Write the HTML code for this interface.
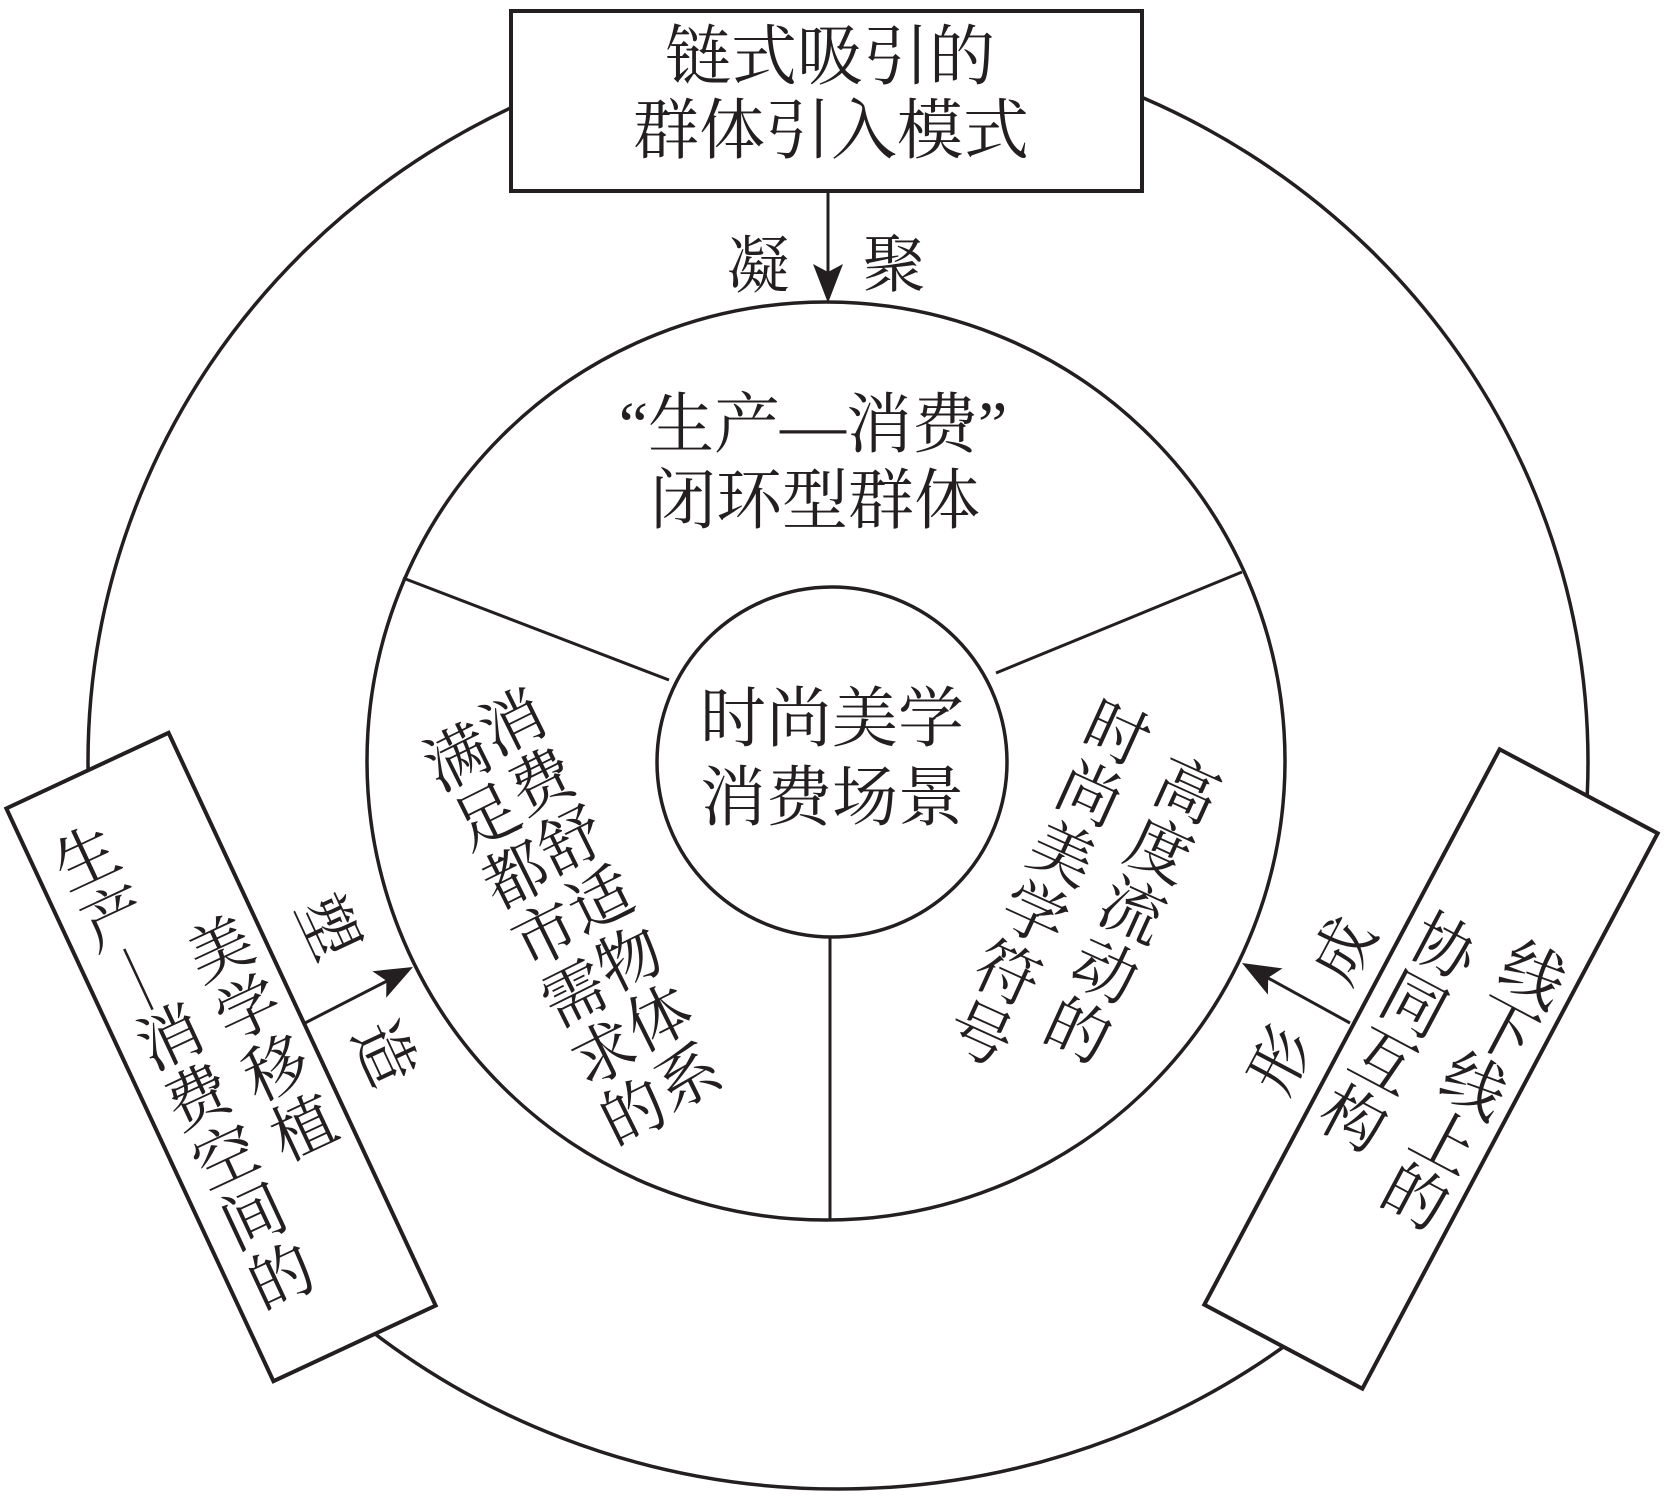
<!DOCTYPE html>
<html><head><meta charset="utf-8"><style>
html,body{margin:0;padding:0;background:#fff;}
svg{display:block;}
text{font-family:"Liberation Serif","Noto Serif CJK SC",serif;fill:#231f20;}
</style></head><body>
<svg width="1669" height="1496" viewBox="0 0 1669 1496" xmlns="http://www.w3.org/2000/svg">
<g fill="none" stroke="#231f20">
  <ellipse cx="838" cy="762" rx="750" ry="727" stroke-width="3.5"/>
  <circle cx="826" cy="761" r="459" stroke-width="3.5"/>
  <circle cx="832" cy="762" r="175" stroke-width="3.5"/>
  <line x1="403" y1="578" x2="669" y2="680" stroke-width="3"/>
  <line x1="1242" y1="572" x2="996" y2="673" stroke-width="3"/>
  <line x1="830" y1="938" x2="830" y2="1220" stroke-width="3"/>
</g>
<!-- top box -->
<rect x="511" y="11" width="631" height="180" fill="#fff" stroke="#231f20" stroke-width="4"/>
<g font-size="66" text-anchor="middle">
  <text x="830" y="55" dy="0.36em">链式吸引的</text>
  <text x="831" y="129" dy="0.36em">群体引入模式</text>
</g>
<!-- top arrow -->
<line x1="828" y1="191" x2="828" y2="274" stroke="#231f20" stroke-width="3"/>
<path d="M828,303 L813,264 L828,272 L843,264 Z" fill="#231f20"/>
<g font-size="63" text-anchor="middle">
  <text x="758" y="265" dy="0.36em">凝</text>
  <text x="894" y="264" dy="0.36em">聚</text>
</g>
<!-- middle top text -->
<g font-size="66" text-anchor="middle">
  <text x="813" y="423" dy="0.36em">“生产—消费”</text>
  <text x="815" y="499" dy="0.36em">闭环型群体</text>
  <text x="832" y="717" dy="0.36em">时尚美学</text>
  <text x="832" y="796" dy="0.36em">消费场景</text>
</g>
<!-- left sector text -->
<g font-size="64" text-anchor="middle">
  <g transform="translate(512,722) rotate(-26.4)">
    <text x="0" y="0" dy="0.36em">消</text>
    <text x="0" y="66" dy="0.36em">费</text>
    <text x="0" y="132" dy="0.36em">舒</text>
    <text x="0" y="198" dy="0.36em">适</text>
    <text x="0" y="264" dy="0.36em">物</text>
    <text x="0" y="330" dy="0.36em">体</text>
    <text x="0" y="396" dy="0.36em">系</text>
  </g>
  <g transform="translate(457,757) rotate(-26.4)">
    <text x="0" y="0" dy="0.36em">满</text>
    <text x="0" y="66" dy="0.36em">足</text>
    <text x="0" y="132" dy="0.36em">都</text>
    <text x="0" y="198" dy="0.36em">市</text>
    <text x="0" y="264" dy="0.36em">需</text>
    <text x="0" y="330" dy="0.36em">求</text>
    <text x="0" y="396" dy="0.36em">的</text>
  </g>
  <!-- right sector text -->
  <g transform="translate(1187,790) rotate(24.4)">
    <text x="0" y="0" dy="0.36em">高</text>
    <text x="0" y="66" dy="0.36em">度</text>
    <text x="0" y="132" dy="0.36em">流</text>
    <text x="0" y="198" dy="0.36em">动</text>
    <text x="0" y="264" dy="0.36em">的</text>
  </g>
  <g transform="translate(1117,733) rotate(24.4)">
    <text x="0" y="0" dy="0.36em">时</text>
    <text x="0" y="66" dy="0.36em">尚</text>
    <text x="0" y="132" dy="0.36em">美</text>
    <text x="0" y="198" dy="0.36em">学</text>
    <text x="0" y="264" dy="0.36em">符</text>
    <text x="0" y="330" dy="0.36em">号</text>
  </g>
</g>
<!-- left box -->
<g transform="translate(221,1057) rotate(-25)">
  <rect x="-89.5" y="-316" width="179" height="632" fill="#fff" stroke="#231f20" stroke-width="4"/>
</g>
<g font-size="64" text-anchor="middle">
  <g transform="translate(86,857.5) rotate(-25)">
    <text x="0" y="0" dy="0.36em">生</text>
    <text x="0" y="66" dy="0.36em">产</text>
    <line x1="-4" y1="99" x2="-4" y2="166" stroke="#231f20" stroke-width="2.5"/>
    <text x="0" y="198" dy="0.36em">消</text>
    <text x="0" y="264" dy="0.36em">费</text>
    <text x="0" y="330" dy="0.36em">空</text>
    <text x="0" y="396" dy="0.36em">间</text>
    <text x="0" y="462" dy="0.36em">的</text>
  </g>
  <g transform="translate(220,948.3) rotate(-25)">
    <text x="0" y="0" dy="0.36em">美</text>
    <text x="0" y="66" dy="0.36em">学</text>
    <text x="0" y="132" dy="0.36em">移</text>
    <text x="0" y="198" dy="0.36em">植</text>
  </g>
</g>
<!-- right box -->
<g transform="translate(1431,1069) rotate(28)">
  <rect x="-89.5" y="-314.5" width="179" height="629" fill="#fff" stroke="#231f20" stroke-width="4"/>
</g>
<g font-size="64" text-anchor="middle">
  <g transform="translate(1533.5,974) rotate(28)">
    <text x="0" y="0" dy="0.36em">线</text>
    <text x="0" y="63" dy="0.36em">下</text>
    <text x="0" y="126" dy="0.36em">线</text>
    <text x="0" y="189" dy="0.36em">上</text>
    <text x="0" y="252" dy="0.36em">的</text>
  </g>
  <g transform="translate(1445,946.4) rotate(28)">
    <text x="0" y="0" dy="0.36em">协</text>
    <text x="0" y="65" dy="0.36em">同</text>
    <text x="0" y="130" dy="0.36em">互</text>
    <text x="0" y="195" dy="0.36em">构</text>
  </g>
</g>
<!-- left arrow -->
<line x1="305" y1="1023" x2="387" y2="981" stroke="#231f20" stroke-width="3"/>
<path d="M413,967 L372.4,971.2 L386.4,980.8 L386.2,997.8 Z" fill="#231f20"/>
<!-- right arrow -->
<line x1="1350" y1="1023" x2="1268" y2="978" stroke="#231f20" stroke-width="3"/>
<path d="M1242,963 L1282.5,968.4 L1268.2,977.6 L1267.9,994.6 Z" fill="#231f20"/>
<!-- arrow labels -->
<g font-size="63" text-anchor="middle">
  <text transform="translate(328,927) rotate(65)" dy="0.36em">塑</text>
  <text transform="translate(385,1053) rotate(65)" dy="0.36em">造</text>
  <text transform="translate(1343,950) rotate(-62)" dy="0.36em">成</text>
  <text transform="translate(1280,1060) rotate(-62)" dy="0.36em">形</text>
</g>
</svg>
</body></html>
